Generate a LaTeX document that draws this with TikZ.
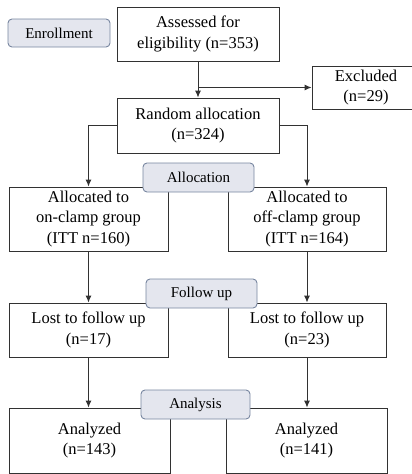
\documentclass[tikz,border=0pt]{standalone}
\usepackage{fontspec}
\setmainfont{Liberation Serif}
\usepackage{tikz}
\usetikzlibrary{positioning}
\usetikzlibrary{arrows.meta}
\definecolor{labfill}{RGB}{228,230,238}
\definecolor{labdraw}{RGB}{120,134,160}
\definecolor{linegray}{RGB}{50,50,50}

\tikzset{
  box/.style={draw=linegray, line width=0.9pt, align=center, font=\fontsize{16.5}{20.5}\selectfont, inner sep=0pt},
  stage/.style={draw=labdraw, fill=labfill, rounded corners=4pt, line width=0.9pt, font=\fontsize{15}{17}\selectfont, inner sep=0pt},
  arr/.style={draw=linegray, line width=0.9pt, -{Latex[length=7pt,width=6pt]}}
}

\begin{document}
\begin{tikzpicture}[x=1pt, y=-1pt]
    \useasboundingbox (0,0) rectangle (412,474);
    % boxes
    \node(Assess) [box, minimum width=162pt, minimum height=54pt] at (198,34) {Assessed for\\eligibility (n=353)};
    \node(Excl) [box, minimum width=108pt, minimum height=43pt] at (366,87.5) {Excluded\\(n=29)};
    \node(Rand) [box, minimum width=162pt, minimum height=55pt] at (198,125.5) {Random allocation\\(n=324)};
    \node(AllocL) [box, minimum width=159pt, minimum height=64pt] at (88.5,219) {Allocated to\\on-clamp group\\(ITT n=160)};
    \node(AllocR) [box, minimum width=158pt, minimum height=64pt] at (307,219) {Allocated to\\off-clamp group\\(ITT n=164)};
    \node(LostL) [box, minimum width=159pt, minimum height=54pt] at (88.5,330) {Lost to follow up\\(n=17)};
    \node(LostR) [box, minimum width=158pt, minimum height=54pt] at (307,330) {Lost to follow up\\(n=23)};
    \node(AnaL) [box, minimum width=161pt, minimum height=65pt] at (89.5,440.5) {Analyzed\\(n=143)};
    \node(AnaR) [box, minimum width=161pt, minimum height=65pt] at (306.5,440.5) {Analyzed\\(n=141)};

    % stage labels
    \node(Enroll) [stage, minimum width=102pt, minimum height=28pt] at (59,33) {Enrollment};
    \node(Alloc) [stage, minimum width=111pt, minimum height=29pt] at (198.5,177.5) {Allocation};
    \node(Follow) [stage, minimum width=111pt, minimum height=29pt] at (201.5,293.5) {Follow up};
    \node(Anal) [stage, minimum width=109pt, minimum height=29pt] at (195.5,404.5) {Analysis};

    \coordinate(Split) at (Assess.south |- Excl.west);

    \draw[arr](Assess.south) -- (Rand.north);
    \draw[arr](Split) -- (Excl.west);
    \draw[arr](Rand.west) -| (AllocL.north);
    \draw[arr](Rand.east) -| (AllocR.north);
    \draw[arr](AllocL.south) -- (LostL.north);
    \draw[arr](AllocR.south) -- (LostR.north);
    \draw[arr](LostL.south) -- (LostL.south |- AnaL.north);
    \draw[arr](LostR.south) -- (LostR.south |- AnaR.north);
\end{tikzpicture}
\end{document}
